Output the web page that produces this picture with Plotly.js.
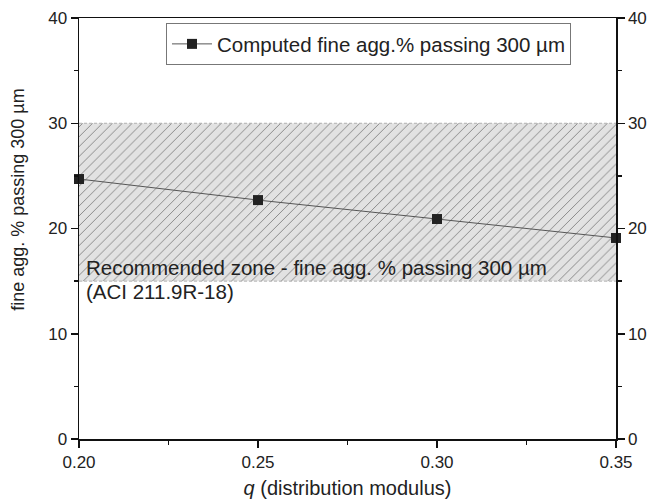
<!DOCTYPE html>
<html>
<head>
<meta charset="utf-8">
<script src="https://cdn.plot.ly/plotly-3.0.1.min.js"></script>
<style>html,body{margin:0;padding:0;background:#fff;}#chart{width:649px;height:502px;}</style>
</head>
<body>
<div id="chart"></div>
<script>
// Data
const qValues = [0.20, 0.25, 0.30, 0.35];
const finePassing = [24.7, 22.7, 20.9, 19.1];
const zoneLow = 15;
const zoneHigh = 30;
const xRange = [0.20, 0.35];
const yRange = [0, 40];
const seriesName = 'Computed fine agg.% passing 300 \u00b5m';
const zoneLabel1 = 'Recommended zone - fine agg. % passing 300 \u00b5m';
const zoneLabel2 = '(ACI 211.9R-18)';
const xTitle = '<i>q</i> (distribution modulus)';
const yTitle = 'fine agg. % passing 300 \u00b5m';

const font = 'Liberation Sans, Arial, sans-serif';

const zoneTrace = {
  x: [xRange[0], xRange[1], xRange[1], xRange[0], xRange[0]],
  y: [zoneLow, zoneLow, zoneHigh, zoneHigh, zoneLow],
  type: 'scatter',
  mode: 'lines',
  fill: 'toself',
  fillcolor: '#e2e2e2',
  fillpattern: {shape: '/', bgcolor: '#e2e2e2', fgcolor: '#7a7a7a', size: 7, solidity: 0.12},
  line: {width: 0},
  showlegend: false,
  hoverinfo: 'skip'
};

const dataTrace = {
  x: qValues,
  y: finePassing,
  yaxis: 'y2',
  type: 'scatter',
  mode: 'lines+markers',
  name: seriesName,
  line: {color: '#555', width: 1},
  marker: {symbol: 'square', size: 10, color: '#222'},
  cliponaxis: false
};

const axisCommon = {
  showgrid: false,
  zeroline: false,
  showline: true,
  linecolor: '#111',
  linewidth: 1.5,
  ticks: 'outside',
  ticklen: 7,
  tickwidth: 1.5,
  tickcolor: '#111',
  tickfont: {family: font, size: 17, color: '#222'}
};

const layout = {
  width: 649,
  height: 502,
  margin: {l: 79, r: 33, t: 18, b: 63},
  paper_bgcolor: '#fff',
  plot_bgcolor: '#fff',
  xaxis: Object.assign({}, axisCommon, {
    range: xRange,
    dtick: 0.05,
    tickformat: '.2f',
    mirror: true,
    minor: {dtick: 0.025, ticks: 'outside', ticklen: 4, tickwidth: 1.5, tickcolor: '#111'},
    title: {text: xTitle, font: {family: font, size: 20, color: '#222'}, standoff: 10}
  }),
  yaxis: Object.assign({}, axisCommon, {
    range: yRange,
    dtick: 10,
    minor: {dtick: 5, ticks: 'outside', ticklen: 4, tickwidth: 1.5, tickcolor: '#111'}
  }),
  yaxis2: Object.assign({}, axisCommon, {
    range: yRange,
    dtick: 10,
    overlaying: 'y',
    side: 'right',
    minor: {dtick: 5, ticks: 'outside', ticklen: 4, tickwidth: 1.5, tickcolor: '#111'}
  }),
  shapes: [
    {type: 'line', xref: 'x', yref: 'y', x0: xRange[0], x1: xRange[1], y0: zoneHigh, y1: zoneHigh, line: {color: '#b0b0b0', width: 1, dash: '3px,2px'}},
    {type: 'line', xref: 'x', yref: 'y', x0: xRange[0], x1: xRange[1], y0: zoneLow, y1: zoneLow, line: {color: '#b0b0b0', width: 1, dash: '3px,2px'}}
  ],
  annotations: [
    {xref: 'x', yref: 'y', x: 0.2, y: 16.3, xshift: 5, xanchor: 'left', yanchor: 'middle', showarrow: false, text: zoneLabel1, font: {family: font, size: 20.5, color: '#222'}},
    {xref: 'x', yref: 'y', x: 0.2, y: 14.0, xshift: 5, xanchor: 'left', yanchor: 'middle', showarrow: false, text: zoneLabel2, font: {family: font, size: 20.5, color: '#222'}},
    {xref: 'paper', yref: 'paper', x: 0, xshift: -61, y: 0.568, xanchor: 'center', yanchor: 'middle', textangle: -90, showarrow: false, text: yTitle, font: {family: font, size: 18, color: '#222'}}
  ],
  legend: {
    x: 0.162, y: 0.988, xanchor: 'left', yanchor: 'top',
    bgcolor: '#fff', bordercolor: '#777', borderwidth: 1,
    font: {family: font, size: 20.5, color: '#222'},
    itemwidth: 40
  },
  showlegend: true
};

Plotly.newPlot('chart', [zoneTrace, dataTrace], layout, {displayModeBar: false, staticPlot: true});
</script>
</body>
</html>
